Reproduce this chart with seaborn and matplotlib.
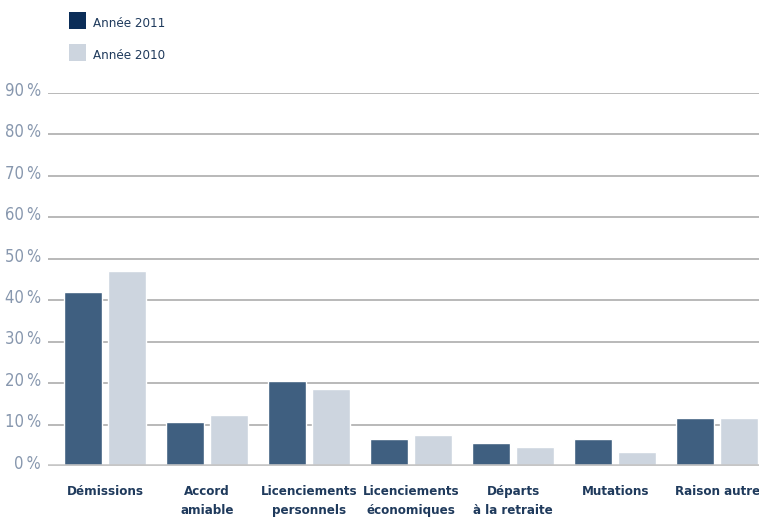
import matplotlib
matplotlib.use("Agg")
import matplotlib.pyplot as plt
from matplotlib.patches import Rectangle
from matplotlib.transforms import ScaledTranslation
import seaborn as sns
import pandas as pd

categories = [
    "Démissions",
    "Accord\namiable",
    "Licenciements\npersonnels",
    "Licenciements\néconomiques",
    "Départs\nà la retraite",
    "Mutations",
    "Raison autre",
]
values_2011 = [42.0, 10.6, 20.5, 6.5, 5.5, 6.5, 11.6]
values_2010 = [47.0, 12.3, 18.6, 7.5, 4.6, 3.4, 11.6]
series_labels = ["Année 2011", "Année 2010"]
y_ticks = [0, 10, 20, 30, 40, 50, 60, 70, 80, 90]
y_tick_labels = [f"{v}\u2009%" for v in y_ticks]

df = pd.DataFrame({
    "categorie": categories * 2,
    "valeur": values_2011 + values_2010,
    "annee": [series_labels[0]] * len(categories) + [series_labels[1]] * len(categories),
})

sns.set_style("white")
plt.rcParams["font.family"] = ["DejaVu Sans"]
plt.rcParams["font.stretch"] = "condensed"

bar_colors = {series_labels[0]: "#3f5f80", series_labels[1]: "#cdd5df"}
legend_colors = ["#0b2d58", "#cdd5df"]
text_navy = "#1f3a5c"
tick_grey = "#8797ae"

W, H = 759, 521
fig = plt.figure(figsize=(W / 100, H / 100), dpi=100)
ax = fig.add_axes([48 / W, (H - 466) / H, 1 - 48 / W, (466 - 93) / H])

sns.barplot(
    data=df, x="categorie", y="valeur", hue="annee",
    palette=bar_colors, width=0.862, gap=0.135,
    saturation=1, legend=False, ax=ax, zorder=3,
)

ax.set_xlim(-0.56, 6.41)
ax.set_ylim(0, 90)
ax.set_yticks(y_ticks)
ax.set_yticklabels(y_tick_labels)
ax.set_xlabel("")
ax.set_ylabel("")

for v in y_ticks[1:]:
    ax.axhline(v, color="#a6a6a6", lw=1.1, zorder=1)
ax.axhline(0, color="#c6c6c6", lw=2.6, zorder=4)

for s in ax.spines.values():
    s.set_visible(False)

ax.tick_params(axis="y", length=0, pad=5, labelsize=12, labelcolor=tick_grey)
ax.tick_params(axis="x", length=0, pad=14)
offset = ScaledTranslation(0, 3 / 72, fig.dpi_scale_trans)
for lab in ax.get_yticklabels():
    lab.set_transform(lab.get_transform() + offset)
for lab in ax.get_xticklabels():
    lab.set_fontsize(9.5)
    lab.set_fontweight("bold")
    lab.set_color(text_navy)
    lab.set_linespacing(1.55)
    lab.set_verticalalignment("top")

# legend: square swatches with labels, placed in figure pixels
for i, (lbl, col) in enumerate(zip(series_labels, legend_colors)):
    top = 12 + 32 * i
    fig.add_artist(Rectangle((69 / W, 1 - (top + 17) / H), 17 / W, 17 / H,
                             transform=fig.transFigure, facecolor=col,
                             edgecolor="none"))
    fig.text(93 / W, 1 - (top + 11.5) / H, lbl, ha="left", va="center",
             fontsize=9.5, color=text_navy)

fig.savefig("out.png", dpi=100)
